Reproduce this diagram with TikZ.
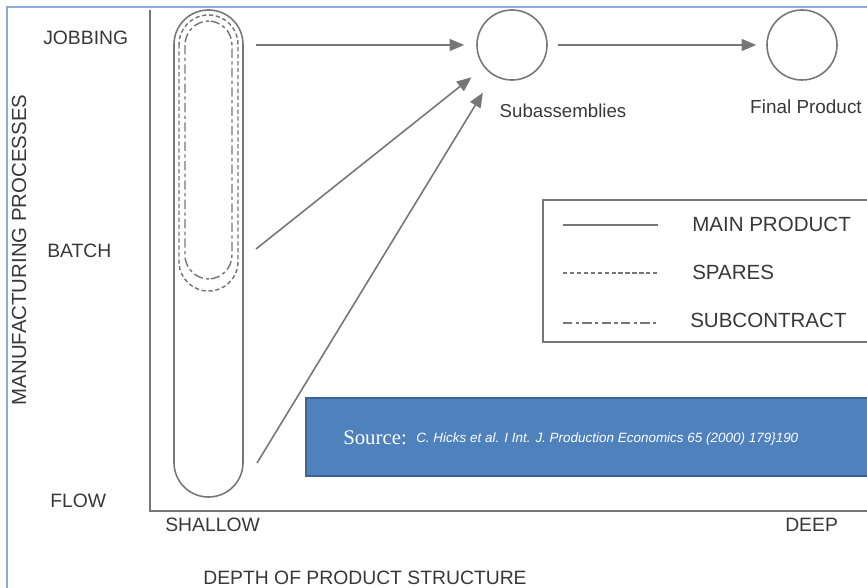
\documentclass[tikz,border=0pt]{standalone}
\usepackage{fontspec}
\setmainfont{Liberation Sans}
\newfontfamily\serifsrc{Liberation Serif}
\usetikzlibrary{arrows.meta}
\definecolor{frameblue}{HTML}{8EAADB}
\definecolor{srcfill}{HTML}{4F81BD}
\definecolor{srcedge}{HTML}{3B6496}
\definecolor{ink}{HTML}{383838}
\definecolor{linegray}{HTML}{777777}
\begin{document}
\begin{tikzpicture}[x=0.75pt,y=-0.75pt,
  lbl/.style={text=ink, font=\fontsize{14.5}{16}\selectfont, inner sep=0},
  leglbl/.style={text=ink, font=\fontsize{15.4}{17}\selectfont, inner sep=0},
  mainline/.style={draw=linegray, line width=1.2pt},
  spareline/.style={draw=linegray, line width=1.1pt, dash pattern=on 3.2pt off 2pt},
  subline/.style={draw=linegray, line width=1.1pt, dash pattern=on 7pt off 2.5pt on 2.5pt off 2.5pt},
  flow/.style={draw=linegray, line width=1.2pt, -{Triangle[length=11pt,width=9pt]}},
  bubble/.style={circle, draw=linegray, line width=1.2pt, minimum size=52.5pt, inner sep=0}
]
\useasboundingbox (0,0) rectangle (867,588);
% frame
\draw[frameblue, line width=1.2pt] (7,588) -- (7,7) -- (867,7);
% axes
\draw[mainline] (150,10) -- (150,511) -- (867,511);
% axis labels
\node[lbl, anchor=west] (jobbing) at (43,38) {JOBBING};
\node[lbl, anchor=west] (batch) at (47,251) {BATCH};
\node[lbl, anchor=west] (flowlbl) at (50,501) {FLOW};
\node[lbl, anchor=west] (shallow) at (165,525) {SHALLOW};
\node[lbl, anchor=west] (deep) at (785,525) {DEEP};
\node[lbl] (depth) at (365,578) {DEPTH OF PRODUCT STRUCTURE};
\node[lbl, font=\fontsize{15.3}{17}\selectfont, rotate=90] (mp) at (19,250) {MANUFACTURING PROCESSES};
% ovals
\draw[mainline, rounded corners=25.8pt] (174,10) rectangle (243,497);
\draw[spareline, rounded corners=22pt] (179,15) rectangle (238,291);
\draw[subline, rounded corners=18pt] (185,21) rectangle (232,279);
% circles
\node[bubble] (sub) at (512,45) {};
\node[bubble] (final) at (802,45) {};
\node[lbl, font=\fontsize{14}{16}\selectfont] (sublbl) at (563,111) {Subassemblies};
\node[lbl, font=\fontsize{14.2}{16}\selectfont] (finlbl) at (806,107) {Final Product};
% arrows
\coordinate (j1) at (256,45);
\coordinate (b1) at (256,249);
\coordinate (f1) at (257,463);
\draw[flow, shorten >=9pt] (j1) -- (sub.west);
\draw[flow, shorten <=7.5pt, shorten >=7.5pt] (sub.east) -- (final.west);
\draw[flow, shorten >=12pt] (b1) -- (sub);
\draw[flow, shorten >=15pt] (f1) -- (sub);
% legend
\draw[mainline] (867,200) -- (543,200) -- (543,342) -- (867,342);
\coordinate (la1) at (563,225); \coordinate (la2) at (658,225);
\coordinate (lb1) at (563,273); \coordinate (lb2) at (658,273);
\coordinate (lc1) at (563,323); \coordinate (lc2) at (658,323);
\draw[mainline] (la1) -- (la2);
\draw[spareline] (lb1) -- (lb2);
\draw[subline] (lc1) -- (lc2);
\node[leglbl, anchor=west] (lgmain) at (692,224) {MAIN PRODUCT};
\node[leglbl, anchor=west] (lgspare) at (692,272) {SPARES};
\node[leglbl, anchor=west] (lgsub) at (690,320) {SUBCONTRACT};
% source box
\fill[srcfill] (306,398) rectangle (867,476);
\draw[srcedge, line width=1.5pt] (867,398) -- (306,398) -- (306,476) -- (867,476);
\node[anchor=west, inner sep=0, text=white, font=\serifsrc\fontsize{15.6}{17}\selectfont] (src) at (343,438) {Source:};
\node[anchor=west, inner sep=0, text=white, font=\itshape\fontsize{10.1}{12}\selectfont] (cite) at (416,439) {C. Hicks et al. I Int. J. Production Economics 65 (2000) 179\}190};
\end{tikzpicture}
\end{document}
